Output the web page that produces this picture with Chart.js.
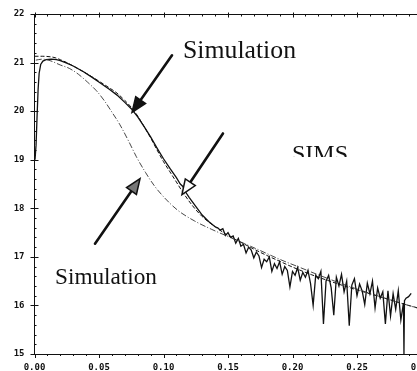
<!DOCTYPE html>
<html><head><meta charset="utf-8">
<script src="https://cdn.jsdelivr.net/npm/chart.js@4"></script>
<style>html,body{margin:0;padding:0;background:#fff;overflow:hidden;width:417px;height:371px}canvas{display:block}</style>
</head><body>
<canvas id="c" width="440" height="371"></canvas>
<script>
const xTickValues = [0, 0.05, 0.10, 0.15, 0.20, 0.25, 0.30];
const yTickValues = [15, 16, 17, 18, 19, 20, 21, 22];
const labelTexts = ['Simulation', 'SIMS', 'Simulation'];

const simsX = [0.0004,0.0012,0.0020,0.0028,0.0036,0.0048,0.0065,0.0090,0.0130,0.0170,
  0.020,0.025,0.030,0.038,0.045,0.051,0.058,0.064,0.070,0.075,0.080,0.085,0.090,0.095,0.100,
  0.105,0.110,0.113,0.115,0.117,0.120,0.125,0.130,0.135,0.140,
  0.142,0.144,0.146,0.148,0.150,0.152,0.154,0.156,0.158,0.160,0.162,0.164,0.166,0.168,0.170,
  0.172,0.174,0.176,0.178,0.180,0.182,0.184,0.186,0.188,0.190,0.192,0.194,0.196,0.198,0.200,
  0.202,0.204,0.206,0.208,0.210,0.212,0.214,0.216,0.218,0.220,0.222,0.224,0.226,0.228,0.230,
  0.232,0.234,0.236,0.238,0.240,0.242,0.244,0.246,0.248,0.250,0.252,0.254,0.256,0.258,0.260,
  0.262,0.264,0.266,0.268,0.270,0.272,0.274,0.276,0.278,0.280,0.282,0.284,0.2860,0.2864,0.2868,
  0.288,0.290,0.292];
const simsY = [19.00,19.30,19.90,20.45,20.78,20.96,21.03,21.06,21.07,21.06,
  21.04,20.99,20.93,20.81,20.69,20.58,20.45,20.33,20.18,20.05,19.88,19.68,19.47,19.24,19.02,
  18.82,18.63,18.50,18.45,18.34,18.22,18.04,17.86,17.73,17.62,
  17.60,17.55,17.58,17.44,17.50,17.40,17.43,17.28,17.38,17.22,17.26,17.08,17.20,17.14,16.98,
  17.10,17.02,16.78,16.95,16.90,17.00,16.70,16.86,16.76,16.90,16.64,16.80,16.72,16.38,16.70,
  16.62,16.78,16.52,16.68,16.58,16.72,16.45,16.00,16.62,16.55,16.70,15.62,16.50,16.62,16.36,
  15.80,16.58,16.40,16.64,16.28,16.50,15.58,16.42,16.55,16.20,16.44,16.30,16.02,16.46,16.24,
  16.50,15.95,16.36,16.15,16.28,15.62,16.30,15.78,16.24,15.92,16.30,15.70,16.05,15.00,16.10,
  16.15,16.18,16.25];

const simUpperX = [0,0.006,0.012,0.016,0.020,0.025,0.030,0.038,0.045,0.051,0.058,0.064,0.070,0.075,
  0.080,0.085,0.090,0.095,0.100,0.105,0.110,0.115,0.122,0.130,0.140,0.150,0.160,0.170,0.180,0.190,
  0.200,0.215,0.230,0.245,0.260,0.275,0.290,0.300];
const simUpperY = [21.13,21.13,21.12,21.10,21.06,21.00,20.93,20.81,20.70,20.60,20.48,20.37,20.22,20.08,
  19.90,19.68,19.45,19.20,18.96,18.75,18.54,18.33,18.07,17.83,17.62,17.44,17.30,17.16,17.03,16.91,
  16.79,16.63,16.49,16.36,16.24,16.12,16.00,15.93];

const simLowerX = [0.001,0.006,0.012,0.020,0.027,0.034,0.041,0.048,0.054,0.060,0.066,0.073,0.079,
  0.086,0.093,0.101,0.111,0.124,0.137,0.150,0.163,0.175,0.190,0.205,0.220,0.240,0.260,0.280,0.300];
const simLowerY = [21.05,21.07,21.04,20.95,20.88,20.76,20.60,20.42,20.22,19.98,19.73,19.38,19.06,
  18.74,18.46,18.21,17.96,17.74,17.57,17.42,17.27,17.13,16.95,16.79,16.63,16.43,16.25,16.08,15.92];

function pts(xs, ys){ return xs.map((x,i)=>({x:x, y:ys[i]})); }

const decor = {
  id: 'decor',
  afterDraw(chart){
    const {ctx, chartArea:a, scales:{x, y}} = chart;
    const X = v => x.getPixelForValue(v), Y = v => y.getPixelForValue(v);
    ctx.save();
    ctx.strokeStyle = '#111'; ctx.lineWidth = 1;
    const top = Math.round(a.top) + 0.5;
    ctx.beginPath(); ctx.moveTo(a.left, top); ctx.lineTo(a.right, top); ctx.stroke();
    for (let k = 0; k <= 30; k++) {
      const px = Math.round(X(k/100)) + 0.5, major = k % 5 === 0;
      ctx.beginPath(); ctx.moveTo(px, a.bottom); ctx.lineTo(px, a.bottom + (major ? 4 : 2)); ctx.stroke();
      ctx.beginPath(); ctx.moveTo(px, top - (major ? 2 : 0)); ctx.lineTo(px, top + (major ? 3 : 2)); ctx.stroke();
    }
    for (let k = 150; k <= 220; k += 2) {
      const py = Math.round(Y(k/10)) + 0.5, major = k % 10 === 0;
      ctx.beginPath(); ctx.moveTo(a.left - (major ? 4 : 0), py); ctx.lineTo(a.left + (major ? 4 : 2), py); ctx.stroke();
    }
    function arrow(x1, y1, x2, y2, fill){
      const ang = Math.atan2(y2-y1, x2-x1), L = 15, W = 6;
      const bx = x2 - L*Math.cos(ang), by = y2 - L*Math.sin(ang);
      ctx.strokeStyle = '#111'; ctx.lineWidth = 2.6; ctx.lineCap = 'round';
      ctx.beginPath(); ctx.moveTo(x1, y1); ctx.lineTo(bx, by); ctx.stroke();
      ctx.beginPath(); ctx.moveTo(x2, y2);
      ctx.lineTo(bx + W*Math.sin(ang), by - W*Math.cos(ang));
      ctx.lineTo(bx - W*Math.sin(ang), by + W*Math.cos(ang));
      ctx.closePath(); ctx.fillStyle = fill; ctx.fill(); ctx.lineWidth = 1.5; ctx.stroke();
    }
    arrow(X(0.1066), Y(21.15), X(0.0756), Y(19.975), '#111');
    arrow(X(0.1461), Y(19.54), X(0.1143), Y(18.28), '#fff');
    arrow(X(0.0469), Y(17.27), X(0.0818), Y(18.61), '#777');
    function fitText(t, left, base, w){
      ctx.font = '23px "Liberation Serif"';
      const m = ctx.measureText(t).width;
      const size = 23 * w / m;
      ctx.font = size.toFixed(2) + 'px "Liberation Serif"';
      ctx.fillStyle = '#111'; ctx.textBaseline = 'alphabetic'; ctx.textAlign = 'left';
      ctx.fillText(t, left, base);
    }
    fitText(labelTexts[0], 183, 58, 113);
    fitText(labelTexts[2], 55, 284, 102);
    ctx.save();
    ctx.beginPath(); ctx.rect(280, 130, 100, 27); ctx.clip();
    fitText(labelTexts[1], 292, 161, 56);
    ctx.restore();
    ctx.restore();
  }
};

const tickFont = {family: '"DejaVu Sans Mono"', size: 9, weight: 'bold'};

new Chart(document.getElementById('c'), {
  type: 'line',
  data: {
    datasets: [
      {label:'Simulation (lower)', data: pts(simLowerX, simLowerY), borderColor:'#333', borderWidth:0.9,
        borderDash:[6,2,1,2], pointRadius:0, cubicInterpolationMode:'monotone', fill:false},
      {label:'Simulation (upper)', data: pts(simUpperX, simUpperY), borderColor:'#111', borderWidth:1,
        borderDash:[4,2], pointRadius:0, cubicInterpolationMode:'monotone', fill:false},
      {label:'SIMS', data: pts(simsX, simsY), borderColor:'#111', borderWidth:1.3,
        pointRadius:0, tension:0, fill:false}
    ]
  },
  options: {
    responsive:false, animation:false, devicePixelRatio:1,
    layout:{padding:{left:0, top:14, right:18.5, bottom:0}},
    plugins:{legend:{display:false}, tooltip:{enabled:false}},
    scales:{
      x:{type:'linear', min:0, max:0.3,
        afterBuildTicks: s => { s.ticks = xTickValues.map(v=>({value:v})); },
        afterFit: s => { s.height = 17; },
        grid:{display:false}, border:{display:true, color:'#111', width:1},
        ticks:{font:tickFont, color:'#111', padding:0, maxRotation:0, autoSkip:false,
          callback: v => Number(v).toFixed(2)}},
      y:{type:'linear', min:15, max:22,
        afterBuildTicks: s => { s.ticks = yTickValues.map(v=>({value:v})); },
        afterFit: s => { s.width = 34.5; },
        grid:{display:false}, border:{display:true, color:'#111', width:1},
        ticks:{font:tickFont, color:'#111', padding:2, callback: v => String(v)}}
    }
  },
  plugins:[decor]
});
</script>
</body></html>
